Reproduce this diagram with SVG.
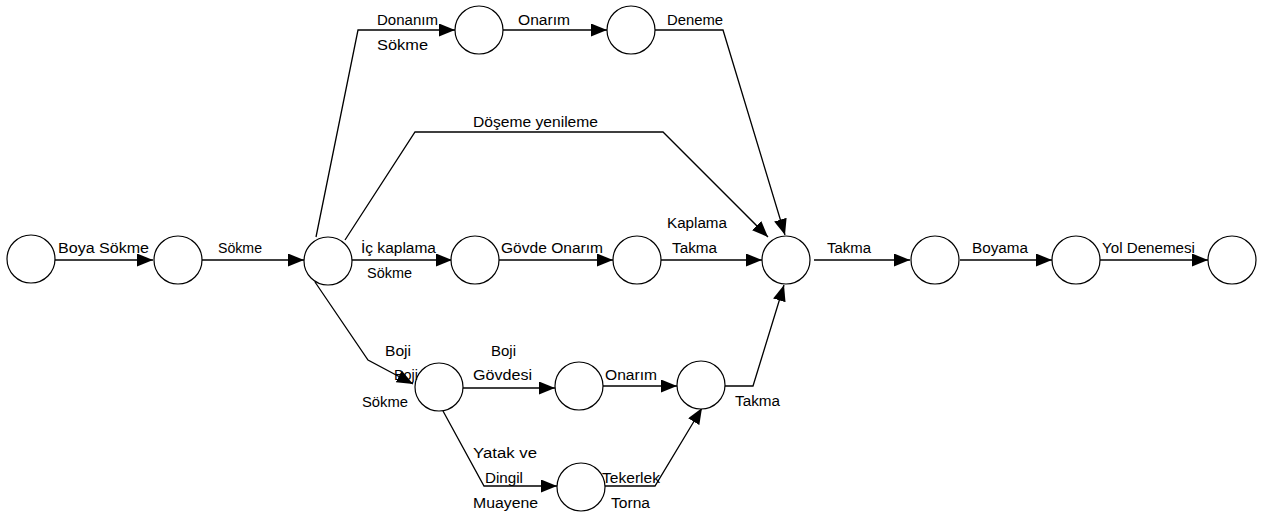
<svg xmlns="http://www.w3.org/2000/svg" width="1263" height="515" viewBox="0 0 1263 515">
<style>
.n{fill:#fff;stroke:#000;stroke-width:1.2}
.c{fill:none;stroke:#000;stroke-width:1.3;marker-end:url(#ah)}
.t{font-family:"Liberation Sans",Arial,sans-serif;font-size:14px;fill:#000}
</style>
<defs>
<marker id="ah" markerUnits="userSpaceOnUse" markerWidth="17" markerHeight="14" refX="16" refY="6.5" orient="auto">
<path d="M0,0 L16,6.5 L0,13 Z" fill="#000"/>
</marker>
</defs>
<rect width="1263" height="515" fill="#fff"/>
<g id="connectors">
<path class="c" d="M55,260 H153"/>
<path class="c" d="M202,260 H304"/>
<path class="c" d="M316,237 L358,30 H455"/>
<path class="c" d="M503,30 H607"/>
<path class="c" d="M655,30 H723 L785,235"/>
<path class="c" d="M345,240 L415,132 H663 L768,237"/>
<path class="c" d="M352,260 H452"/>
<path class="c" d="M499,260 H613"/>
<path class="c" d="M661,260 H762"/>
<path class="c" d="M315,282 L368,360 L413,384"/>
<path class="c" d="M463,388 H555"/>
<path class="c" d="M603,386 H677"/>
<path class="c" d="M725,386 H753 L784,285"/>
<path class="c" d="M443,411 L484,486 H557"/>
<path class="c" d="M605,486 H655 L702,408"/>
<path class="c" d="M814,260 H910"/>
<path class="c" d="M960,260 H1052"/>
<path class="c" d="M1100,260 H1208"/>
</g>
<g id="n1"><circle class="n" cx="31" cy="259" r="24"/></g>
<g id="n2"><circle class="n" cx="178" cy="260" r="24"/></g>
<g id="n3"><circle class="n" cx="328" cy="261" r="24"/></g>
<g id="n4"><circle class="n" cx="479" cy="30" r="24"/></g>
<g id="n5"><circle class="n" cx="631" cy="30" r="24"/></g>
<g id="n6"><circle class="n" cx="475" cy="260" r="24"/></g>
<g id="n7"><circle class="n" cx="637" cy="260" r="24"/></g>
<g id="n8"><circle class="n" cx="786" cy="260" r="24"/></g>
<g id="n9"><circle class="n" cx="935" cy="260" r="24"/></g>
<g id="n10"><circle class="n" cx="1076" cy="260" r="24"/></g>
<g id="n11"><circle class="n" cx="1232" cy="260" r="24"/></g>
<g id="n12"><circle class="n" cx="439" cy="387" r="24"/></g>
<g id="n13"><circle class="n" cx="579" cy="386" r="24"/></g>
<g id="n14"><circle class="n" cx="701" cy="385" r="24"/></g>
<g id="n15"><circle class="n" cx="581" cy="487" r="24"/></g>
<g id="labels">
<text class="t" x="58" y="253" textLength="91" lengthAdjust="spacingAndGlyphs">Boya Sökme</text>
<text class="t" x="218" y="253" textLength="44" lengthAdjust="spacingAndGlyphs">Sökme</text>
<text class="t" x="377" y="25" textLength="61" lengthAdjust="spacingAndGlyphs">Donanım</text>
<text class="t" x="377" y="50" textLength="51" lengthAdjust="spacingAndGlyphs">Sökme</text>
<text class="t" x="518" y="25" textLength="52" lengthAdjust="spacingAndGlyphs">Onarım</text>
<text class="t" x="667" y="25" textLength="56" lengthAdjust="spacingAndGlyphs">Deneme</text>
<text class="t" x="473" y="127" textLength="125" lengthAdjust="spacingAndGlyphs">Döşeme yenileme</text>
<text class="t" x="667" y="228" textLength="60" lengthAdjust="spacingAndGlyphs">Kaplama</text>
<text class="t" x="672" y="253" textLength="45" lengthAdjust="spacingAndGlyphs">Takma</text>
<text class="t" x="361" y="253" textLength="75" lengthAdjust="spacingAndGlyphs">İç kaplama</text>
<text class="t" x="367" y="278" textLength="45" lengthAdjust="spacingAndGlyphs">Sökme</text>
<text class="t" x="501" y="253" textLength="102" lengthAdjust="spacingAndGlyphs">Gövde Onarım</text>
<text class="t" x="827" y="253" textLength="44" lengthAdjust="spacingAndGlyphs">Takma</text>
<text class="t" x="972" y="253" textLength="56" lengthAdjust="spacingAndGlyphs">Boyama</text>
<text class="t" x="1102" y="253" textLength="93" lengthAdjust="spacingAndGlyphs">Yol Denemesi</text>
<text class="t" x="385" y="356" textLength="26" lengthAdjust="spacingAndGlyphs">Boji</text>
<text class="t" x="394" y="380" textLength="24" lengthAdjust="spacingAndGlyphs">Boji</text>
<text class="t" x="362" y="407" textLength="46" lengthAdjust="spacingAndGlyphs">Sökme</text>
<text class="t" x="491" y="356" textLength="25" lengthAdjust="spacingAndGlyphs">Boji</text>
<text class="t" x="473" y="380" textLength="59" lengthAdjust="spacingAndGlyphs">Gövdesi</text>
<text class="t" x="605" y="380" textLength="52" lengthAdjust="spacingAndGlyphs">Onarım</text>
<text class="t" x="735" y="406" textLength="45" lengthAdjust="spacingAndGlyphs">Takma</text>
<text class="t" x="473" y="458" textLength="64" lengthAdjust="spacingAndGlyphs">Yatak ve</text>
<text class="t" x="485" y="483" textLength="38" lengthAdjust="spacingAndGlyphs">Dingil</text>
<text class="t" x="473" y="508" textLength="65" lengthAdjust="spacingAndGlyphs">Muayene</text>
<text class="t" x="602" y="483" textLength="58" lengthAdjust="spacingAndGlyphs">Tekerlek</text>
<text class="t" x="611" y="508" textLength="39" lengthAdjust="spacingAndGlyphs">Torna</text>
</g>
</svg>
